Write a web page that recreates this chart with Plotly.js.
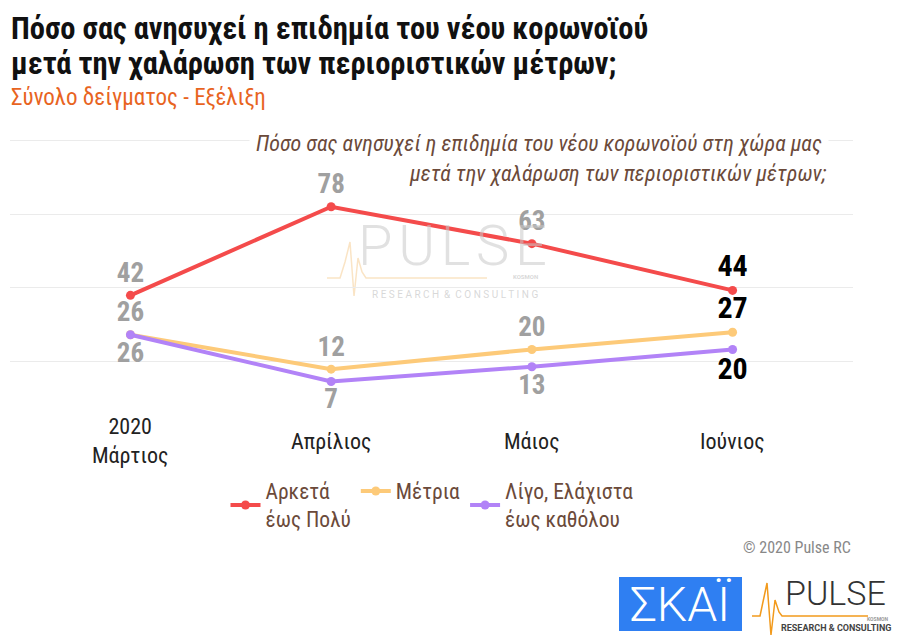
<!DOCTYPE html>
<html>
<head>
<meta charset="utf-8">
<script src="https://cdn.plot.ly/plotly-3.0.1.min.js"></script>
<style>html,body{margin:0;padding:0;background:#fff;}#chart{width:905px;height:641px;}</style>
</head>
<body>
<div id="chart"></div>
<script>
// ---- data ----
const categories = ["Μάρτιος", "Απρίλιος", "Μάιος", "Ιούνιος"];
const tickLabels = ["2020<br>Μάρτιος", "Απρίλιος", "Μάιος", "Ιούνιος"];
const seriesNames = ["Αρκετά<br>έως Πολύ", "Μέτρια", "Λίγο, Ελάχιστα<br>έως καθόλου"];
const muchValues = [42, 78, 63, 44];
const moderateValues = [26, 12, 20, 27];
const littleValues = [26, 7, 13, 20];
const gridValues = [15, 45, 75, 105];

// ---- styling ----
const NARROW = "'Liberation Sans Narrow', 'Roboto Condensed', 'DejaVu Sans Condensed', Roboto, sans-serif";
const colors = ["#f44b4b", "#fdca79", "#b283f7"];
const L = 10, R = 853, T = 128, B = 411;
const px = x => (x - L) / (R - L);
const py = y => (B - y) / (B - T);

function series(name, vals, color, pos) {
  const n = vals.length;
  return {
    type: "scatter",
    mode: "lines+markers+text",
    name: name,
    x: categories,
    y: vals,
    text: vals.map(String),
    textposition: vals.map(() => pos),
    textfont: {
      family: NARROW,
      weight: 700,
      size: vals.map((v, i) => i === n - 1 ? 30 : 27),
      color: vals.map((v, i) => i === n - 1 ? "#000000" : "#a0a0a0")
    },
    line: {color: color, width: 4},
    marker: {color: color, size: 9},
    cliponaxis: false,
    hoverinfo: "skip"
  };
}

const data = [
  series(seriesNames[0], muchValues, colors[0], "top center"),
  series(seriesNames[1], moderateValues, colors[1], "top center"),
  series(seriesNames[2], littleValues, colors[2], "bottom center")
];

const annotations = [];
// titles
annotations.push({xref: "paper", yref: "paper", x: px(9), y: py(29), xanchor: "left", yanchor: "middle", showarrow: false,
  text: "<b>Πόσο σας ανησυχεί η επιδημία του νέου κορωνοϊού</b>", font: {family: NARROW, size: 30.5, color: "#111"}});
annotations.push({xref: "paper", yref: "paper", x: px(9), y: py(64), xanchor: "left", yanchor: "middle", showarrow: false,
  text: "<b>μετά την χαλάρωση των περιοριστικών μέτρων;</b>", font: {family: NARROW, size: 30.5, color: "#111"}});
annotations.push({xref: "paper", yref: "paper", x: px(9), y: py(97), xanchor: "left", yanchor: "middle", showarrow: false,
  text: "Σύνολο δείγματος - Εξέλιξη", font: {family: NARROW, size: 23, color: "#e8641f"}});
// question note
annotations.push({xref: "paper", yref: "paper", x: px(829), y: py(143), xanchor: "right", yanchor: "middle", showarrow: false,
  text: "<i>Πόσο σας ανησυχεί η επιδημία του νέου κορωνοϊού στη χώρα μας</i>", bgcolor: "#ffffff", borderpad: 6,
  font: {family: NARROW, size: 22, color: "#6b4a3a"}});
annotations.push({xref: "paper", yref: "paper", x: px(829), y: py(173), xanchor: "right", yanchor: "middle", showarrow: false,
  text: "<i>μετά την χαλάρωση των περιοριστικών μέτρων;</i>",
  font: {family: NARROW, size: 22, color: "#6b4a3a"}});
// x labels
categories.forEach((c, i) => {
  annotations.push({xref: "x", yref: "paper", x: c, y: py(441), xanchor: "center", yanchor: "middle", showarrow: false,
    text: tickLabels[i], font: {family: NARROW, size: 22, color: "#222"}});
});
// watermark
annotations.push({xref: "paper", yref: "paper", x: px(452), y: py(246), xanchor: "center", yanchor: "middle", showarrow: false,
  text: "P\u200AU\u200AL\u200AS\u200AE", font: {family: "Roboto, sans-serif", weight: 300, size: 56, color: "rgba(200,200,200,0.55)"}});
annotations.push({xref: "paper", yref: "paper", x: px(455), y: py(294), xanchor: "center", yanchor: "middle", showarrow: false,
  text: "R E S E A R C H &nbsp;&amp;&nbsp; C O N S U L T I N G", font: {family: "Roboto, sans-serif", size: 10, color: "rgba(190,190,190,0.6)"}});
annotations.push({xref: "paper", yref: "paper", x: px(540), y: py(276), xanchor: "right", yanchor: "middle", showarrow: false,
  text: "<b>KOSMON</b>", font: {family: "Roboto, sans-serif", size: 6, color: "rgba(190,190,190,0.6)"}});
// copyright
annotations.push({xref: "paper", yref: "paper", x: px(853), y: py(547), xanchor: "right", yanchor: "middle", showarrow: false,
  text: "© 2020 Pulse RC", font: {family: NARROW, size: 16, color: "#888"}});
// logos
annotations.push({xref: "paper", yref: "paper", x: px(680), y: py(604), xanchor: "center", yanchor: "middle", showarrow: false,
  text: "ΣΚΑΪ", font: {family: "Roboto, sans-serif", weight: 300, size: 48, color: "#ffffff"}});
annotations.push({xref: "paper", yref: "paper", x: px(835), y: py(593), xanchor: "center", yanchor: "middle", showarrow: false,
  text: "PULSE", font: {family: "Roboto, sans-serif", weight: 300, size: 34, color: "#333"}});
annotations.push({xref: "paper", yref: "paper", x: px(890), y: py(619), xanchor: "right", yanchor: "middle", showarrow: false,
  text: "<b>KOSMON</b>", font: {family: "Roboto, sans-serif", size: 5, color: "#999"}});
annotations.push({xref: "paper", yref: "paper", x: px(836), y: py(628), xanchor: "center", yanchor: "middle", showarrow: false,
  text: "<b>RESEARCH &amp; CONSULTING</b>", font: {family: "Roboto, sans-serif", size: 9, color: "#444"}});

function pathFromPixels(pts) {
  return pts.map((p, i) => (i ? "L" : "M") + px(p[0]).toFixed(4) + "," + py(p[1]).toFixed(4)).join(" ");
}
const shapes = [
  {type: "rect", xref: "paper", yref: "paper", x0: px(619), x1: px(742), y0: py(577), y1: py(631),
   fillcolor: "#2f7ff2", line: {width: 0}, layer: "above"},
  {type: "path", xref: "paper", yref: "paper", layer: "below", line: {color: "rgba(246,205,150,0.55)", width: 1.5},
   path: pathFromPixels([[327,278],[340,278],[345,262],[350,242],[354,296],[358,258],[362,272],[366,278],[487,278]])},
  {type: "path", xref: "paper", yref: "paper", layer: "above", line: {color: "#f29a1c", width: 1.5},
   path: pathFromPixels([[752,616],[760,616],[763,602],[767,583],[771,635],[775,600],[779,612],[782,616],[868,616]])}
];

const layout = {
  width: 905, height: 641,
  margin: {l: L, r: 905 - R, t: T, b: 641 - B, pad: 0},
  paper_bgcolor: "#ffffff", plot_bgcolor: "#ffffff",
  showlegend: true,
  legend: {orientation: "h", x: px(432), xanchor: "center", y: py(505), yanchor: "middle",
    font: {family: NARROW, size: 21.5, color: "#6b4a3a"}, valign: "middle", itemwidth: 30, traceorder: "normal"},
  xaxis: {type: "category", range: [-0.6, 3.6], showgrid: false, showticklabels: false, zeroline: false, showline: false, fixedrange: true},
  yaxis: {range: [-5, 110], tickvals: gridValues, showticklabels: false, gridcolor: "#ebebeb", gridwidth: 1, zeroline: false, showline: false, fixedrange: true},
  annotations: annotations,
  shapes: shapes,
  hovermode: false
};

Plotly.newPlot("chart", data, layout, {displayModeBar: false, staticPlot: true});
</script>
</body>
</html>
